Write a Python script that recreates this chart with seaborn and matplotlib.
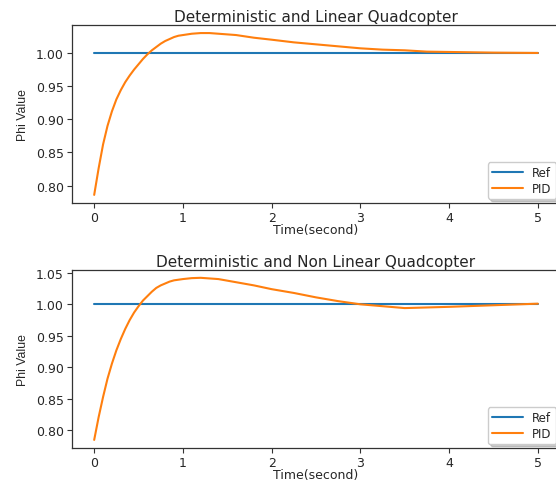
#!/usr/bin/env python3
import matplotlib
matplotlib.use('Agg')
import matplotlib.pyplot as plt
import numpy as np
import pandas as pd
import seaborn as sns

#
#   Values
#
t_lin = [0.00, 0.05, 0.10, 0.15, 0.20, 0.25, 0.30, 0.35, 0.40, 0.45, 0.50, 0.55, 0.60,
         0.65, 0.70, 0.75, 0.80, 0.85, 0.90, 0.95, 1.00, 1.10, 1.20, 1.30, 1.40, 1.50,
         1.60, 1.80, 2.00, 2.25, 2.50, 2.75, 3.00, 3.25, 3.50, 3.75, 4.00, 4.50, 5.00]
pid_lin = [0.786, 0.826, 0.862, 0.890, 0.912, 0.930, 0.944, 0.956, 0.966, 0.975, 0.983,
           0.991, 0.998, 1.004, 1.009, 1.014, 1.018, 1.021, 1.024, 1.026, 1.027, 1.029,
           1.030, 1.030, 1.029, 1.028, 1.027, 1.023, 1.020, 1.016, 1.013, 1.010, 1.007,
           1.005, 1.004, 1.002, 1.0015, 1.0005, 1.000]

t_nonlin = [0.00, 0.05, 0.10, 0.15, 0.20, 0.25, 0.30, 0.35, 0.40, 0.45, 0.50, 0.55, 0.60,
            0.65, 0.70, 0.75, 0.80, 0.85, 0.90, 1.00, 1.10, 1.20, 1.30, 1.40, 1.60, 1.80,
            2.00, 2.25, 2.50, 2.75, 3.00, 3.25, 3.50, 4.00, 4.50, 5.00]
pid_nonlin = [0.785, 0.821, 0.853, 0.882, 0.906, 0.927, 0.945, 0.961, 0.975, 0.987, 0.997,
              1.006, 1.013, 1.020, 1.026, 1.030, 1.033, 1.036, 1.038, 1.040, 1.0415, 1.042,
              1.041, 1.040, 1.035, 1.030, 1.024, 1.018, 1.011, 1.005, 1.000, 0.997, 0.994,
              0.996, 0.9985, 1.001]

ref_value = 1.0
titles = ['Deterministic and Linear Quadcopter', 'Deterministic and Non Linear Quadcopter']

sns.set_style('ticks')
plt.rcParams['font.family'] = ['DejaVu Sans']

fig = plt.figure(figsize=(5.56, 4.81), dpi=100)
# axes run slightly past the right edge, as in the reference screenshot
ax1 = fig.add_axes([0.1295, 0.5759, 0.8777, 0.3701])
ax2 = fig.add_axes([0.1295, 0.0665, 0.8777, 0.3707])

panels = [(ax1, t_lin, pid_lin, titles[0]), (ax2, t_nonlin, pid_nonlin, titles[1])]
for ax, t, pid, title in panels:
  df = pd.DataFrame({'t': t, 'pid': pid, 'ref': [ref_value] * len(t)})
  sns.lineplot(data=df, x='t', y='ref', color='#1f77b4', linewidth=1.5, label='Ref', ax=ax)
  sns.lineplot(data=df, x='t', y='pid', color='#ff7f0e', linewidth=1.5, label='PID', ax=ax)
  ax.set_title(title, fontsize=11, pad=3)
  ax.set_xlabel('Time(second)', fontsize=9, labelpad=-1)
  ax.set_ylabel('Phi Value', fontsize=8.8, family=['Liberation Sans', 'DejaVu Sans'], labelpad=5)
  ax.tick_params(labelsize=9, length=3.5, width=0.8, color='#333333', pad=2.5)
  ax.set_xticks([0, 1, 2, 3, 4, 5])
  for s in ax.spines.values():
    s.set_color('#333333')
    s.set_linewidth(0.9)
  ax.legend(loc='lower right', fontsize=8.5, handlelength=2.6,
            shadow={'color': '#999999', 'alpha': 0.5},
            borderaxespad=0.35, labelspacing=0.2, borderpad=0.35)

ax1.set_yticks([0.80, 0.85, 0.90, 0.95, 1.00])
ax2.set_yticks([0.80, 0.85, 0.90, 0.95, 1.00, 1.05])

plt.savefig('out.png', dpi=100)
